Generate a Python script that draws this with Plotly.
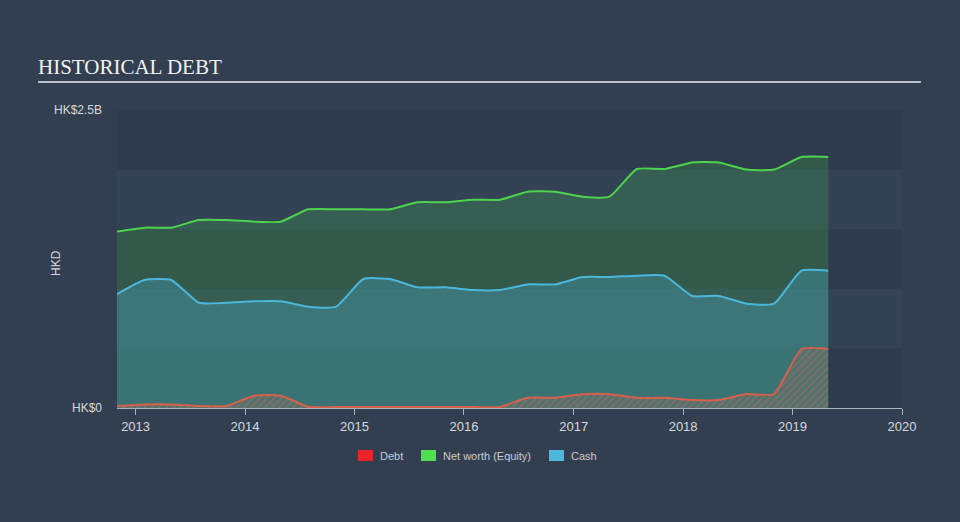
import plotly.graph_objects as go

dates = ["2012-10-31", "2013-01-31", "2013-04-30", "2013-07-31", "2013-10-31",
         "2014-01-31", "2014-04-30", "2014-07-31", "2014-10-31",
         "2015-01-31", "2015-04-30", "2015-07-31", "2015-10-31",
         "2016-01-31", "2016-04-30", "2016-07-31", "2016-10-31",
         "2017-01-31", "2017-04-30", "2017-07-31", "2017-10-31",
         "2018-01-31", "2018-04-30", "2018-07-31", "2018-10-31",
         "2019-01-31", "2019-04-30"]

# values in HK$ billions
net_worth = [1.48, 1.513, 1.513, 1.577, 1.577, 1.563, 1.563, 1.667, 1.667, 1.667, 1.667,
             1.726, 1.726, 1.747, 1.747, 1.815, 1.815, 1.773, 1.773, 2.005, 2.005,
             2.06, 2.06, 2.0, 2.0, 2.105, 2.105]
cash = [0.956, 1.074, 1.074, 0.883, 0.883, 0.895, 0.895, 0.85, 0.85, 1.082, 1.082,
        1.012, 1.012, 0.99, 0.99, 1.037, 1.037, 1.099, 1.099, 1.11, 1.11,
        0.94, 0.94, 0.875, 0.875, 1.152, 1.152]
debt = [0.017, 0.03, 0.03, 0.017, 0.017, 0.103, 0.103, 0.01, 0.008, 0.008, 0.008,
        0.008, 0.008, 0.008, 0.008, 0.086, 0.086, 0.115, 0.115, 0.085, 0.085,
        0.067, 0.067, 0.117, 0.117, 0.495, 0.495]

year_ticks = ["2013-01-01", "2014-01-01", "2015-01-01", "2016-01-01",
              "2017-01-01", "2018-01-01", "2019-01-01", "2020-01-01"]
year_labels = ["2013", "2014", "2015", "2016", "2017", "2018", "2019", "2020"]
y_tickvals = [0, 2.5]
y_ticktext = ["HK$0", "HK$2.5B"]

legend_names = ["Debt", "Net worth (Equity)", "Cash"]
legend_colors = ["#e8262a", "#4fe04f", "#4bb8dc"]

GREEN = "#4cd44c"
BLUE = "#4ab8dc"
RED = "#d9604a"
SMOOTH = 0.5

# pixel -> paper helpers (plot area: x 117..902, y 110..408)
L, R, T, B = 117, 902, 110, 408
def px(x):
    return (x - L) / (R - L)
def py(y):
    return (B - y) / (B - T)

fig = go.Figure()

fig.add_trace(go.Scatter(
    x=dates, y=net_worth, mode="lines", fill="tozeroy",
    fillcolor="rgba(76,212,76,0.20)",
    line=dict(color=GREEN, width=2, shape="spline", smoothing=SMOOTH),
    showlegend=False, hoverinfo="skip"))
fig.add_trace(go.Scatter(
    x=dates, y=cash, mode="lines", fill="tozeroy",
    fillcolor="rgba(74,184,220,0.28)",
    line=dict(color=BLUE, width=2, shape="spline", smoothing=SMOOTH),
    showlegend=False, hoverinfo="skip"))
fig.add_trace(go.Scatter(
    x=dates, y=debt, mode="lines", fill="tozeroy",
    fillcolor="rgba(0,0,0,0)",
    fillpattern=dict(shape="/", fgcolor="rgba(217,96,74,0.8)",
                     bgcolor="rgba(115,118,108,0.35)", size=5, solidity=0.35),
    line=dict(color=RED, width=2, shape="spline", smoothing=SMOOTH),
    showlegend=False, hoverinfo="skip"))

shapes = []
for y0, y1 in [(0.5, 1.0), (1.5, 2.0)]:
    shapes.append(dict(type="rect", xref="paper", yref="y", x0=0, x1=1, y0=y0, y1=y1,
                       fillcolor="#334254", line=dict(width=0), layer="below"))
# title underline
shapes.append(dict(type="line", xref="paper", yref="paper",
                   x0=px(38), x1=px(921), y0=py(82), y1=py(82),
                   line=dict(color="#b9c0c8", width=2)))

annotations = [dict(text="HKD", xref="paper", yref="paper", x=px(56), y=py(263),
                    showarrow=False, textangle=-90, xanchor="center", yanchor="middle",
                    font=dict(size=12, color="#d5d9de"))]

# custom legend
sq_x = [358, 421, 549]
txt_x = [378, 441, 569]
for name, col, sx, tx in zip(legend_names, legend_colors, sq_x, txt_x):
    shapes.append(dict(type="rect", xref="paper", yref="paper",
                       x0=px(sx), x1=px(sx + 15), y0=py(461), y1=py(450),
                       fillcolor=col, line=dict(width=0)))
    annotations.append(dict(text=name, xref="paper", yref="paper", x=px(tx), y=py(456),
                            showarrow=False, xanchor="left", yanchor="middle",
                            font=dict(size=11, color="#c8cdd3")))

fig.update_layout(
    width=960, height=522,
    paper_bgcolor="#323f50",
    plot_bgcolor="#2e3b4c",
    margin=dict(l=L, r=960 - R, t=T, b=522 - B),
    font=dict(family="Liberation Sans, Arial, sans-serif", color="#d5d9de", size=12),
    title=dict(text="HISTORICAL DEBT", x=38 / 960, xanchor="left",
               y=1 - 67 / 522, yanchor="middle",
               font=dict(family="Liberation Serif, Times New Roman, serif", size=21, color="#f2f2f2")),
    shapes=shapes,
    annotations=annotations,
    showlegend=False,
)

fig.update_xaxes(
    type="date", range=["2012-10-31", "2020-01-01"],
    tickvals=year_ticks, ticktext=year_labels,
    showgrid=False, zeroline=False,
    showline=True, linecolor="#a7b1bc", linewidth=1,
    ticks="outside", ticklen=6, tickcolor="#a7b1bc",
    tickfont=dict(size=13, color="#d5d9de"),
)
fig.update_yaxes(
    range=[0, 2.5], tickvals=y_tickvals, ticktext=y_ticktext,
    showgrid=False, zeroline=False, showline=False,
    ticks="", ticklabelstandoff=14,
    tickfont=dict(size=12, color="#d5d9de"),
)

fig.write_html("out.html", config={"displayModeBar": False},
               post_script="document.body.style.margin='0';")
